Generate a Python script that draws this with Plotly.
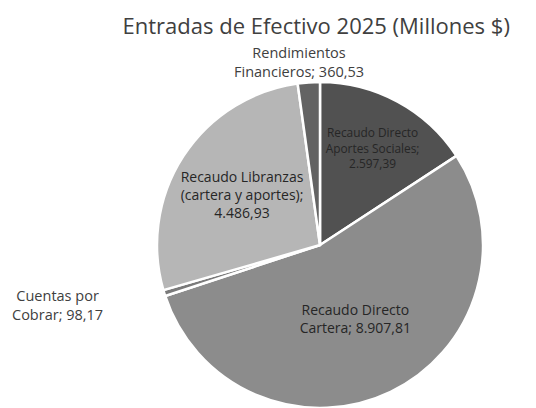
import plotly.graph_objects as go

# Data
categories = [
    "Recaudo Directo Aportes Sociales",
    "Recaudo Directo Cartera",
    "Cuentas por Cobrar",
    "Recaudo Libranzas (cartera y aportes)",
    "Rendimientos Financieros",
]
label_lines = [
    "Recaudo Directo<br>Aportes Sociales;",
    "Recaudo Directo<br>Cartera;",
    "Cuentas por<br>Cobrar;",
    "Recaudo Libranzas<br>(cartera y aportes);",
    "Rendimientos<br>Financieros;",
]
values = [2597.39, 8907.81, 98.17, 4486.93, 360.53]
title_text = "Entradas de Efectivo 2025 (Millones $)"


def es_fmt(v):
    s = f"{v:,.2f}"
    return s.replace(",", "X").replace(".", ",").replace("X", ".")


sep = ["<br>", " ", " ", "<br>", " "]
texts = [f"{l}{s}{es_fmt(v)}" for l, s, v in zip(label_lines, sep, values)]

colors = ["#515151", "#8c8c8c", "#7a7a7a", "#b6b6b6", "#636363"]
positions = ["inside", "inside", "none", "inside", "none"]

W, H = 536, 408
cx, cy, r = 312, 237, 163

fig = go.Figure(
    go.Pie(
        labels=categories,
        values=values,
        text=texts,
        textinfo="text",
        textposition=positions,
        insidetextorientation="horizontal",
        sort=False,
        direction="clockwise",
        rotation=0,
        marker=dict(colors=colors, line=dict(color="white", width=2.5)),
        insidetextfont=dict(family="Open Sans", size=14, color="#262626"),
        showlegend=False,
        hoverinfo="label+value",
        domain=dict(x=[(cx - r) / W, (cx + r) / W],
                    y=[(H - cy - r) / H, (H - cy + r) / H]),
    )
)

# Outside labels for the two small slices
fig.add_annotation(text=texts[4], x=291 / W, y=1 - 54 / H, xref="paper", yref="paper",
                   xanchor="center", yanchor="middle",
                   showarrow=False, align="center",
                   font=dict(family="Open Sans", size=14.5, color="#404040"))
fig.add_annotation(text=texts[2], x=49 / W, y=1 - 297 / H, xref="paper", yref="paper",
                   xanchor="center", yanchor="middle",
                   showarrow=False, align="center",
                   font=dict(family="Open Sans", size=14.5, color="#404040"))

fig.update_layout(
    width=W,
    height=H,
    margin=dict(l=0, r=0, t=0, b=0),
    paper_bgcolor="white",
    plot_bgcolor="white",
    title=dict(text=title_text, x=0.575, xanchor="center", y=0.955, yanchor="middle",
               font=dict(family="Open Sans", size=22, color="#404040")),
)

fig.write_html("out.html")
